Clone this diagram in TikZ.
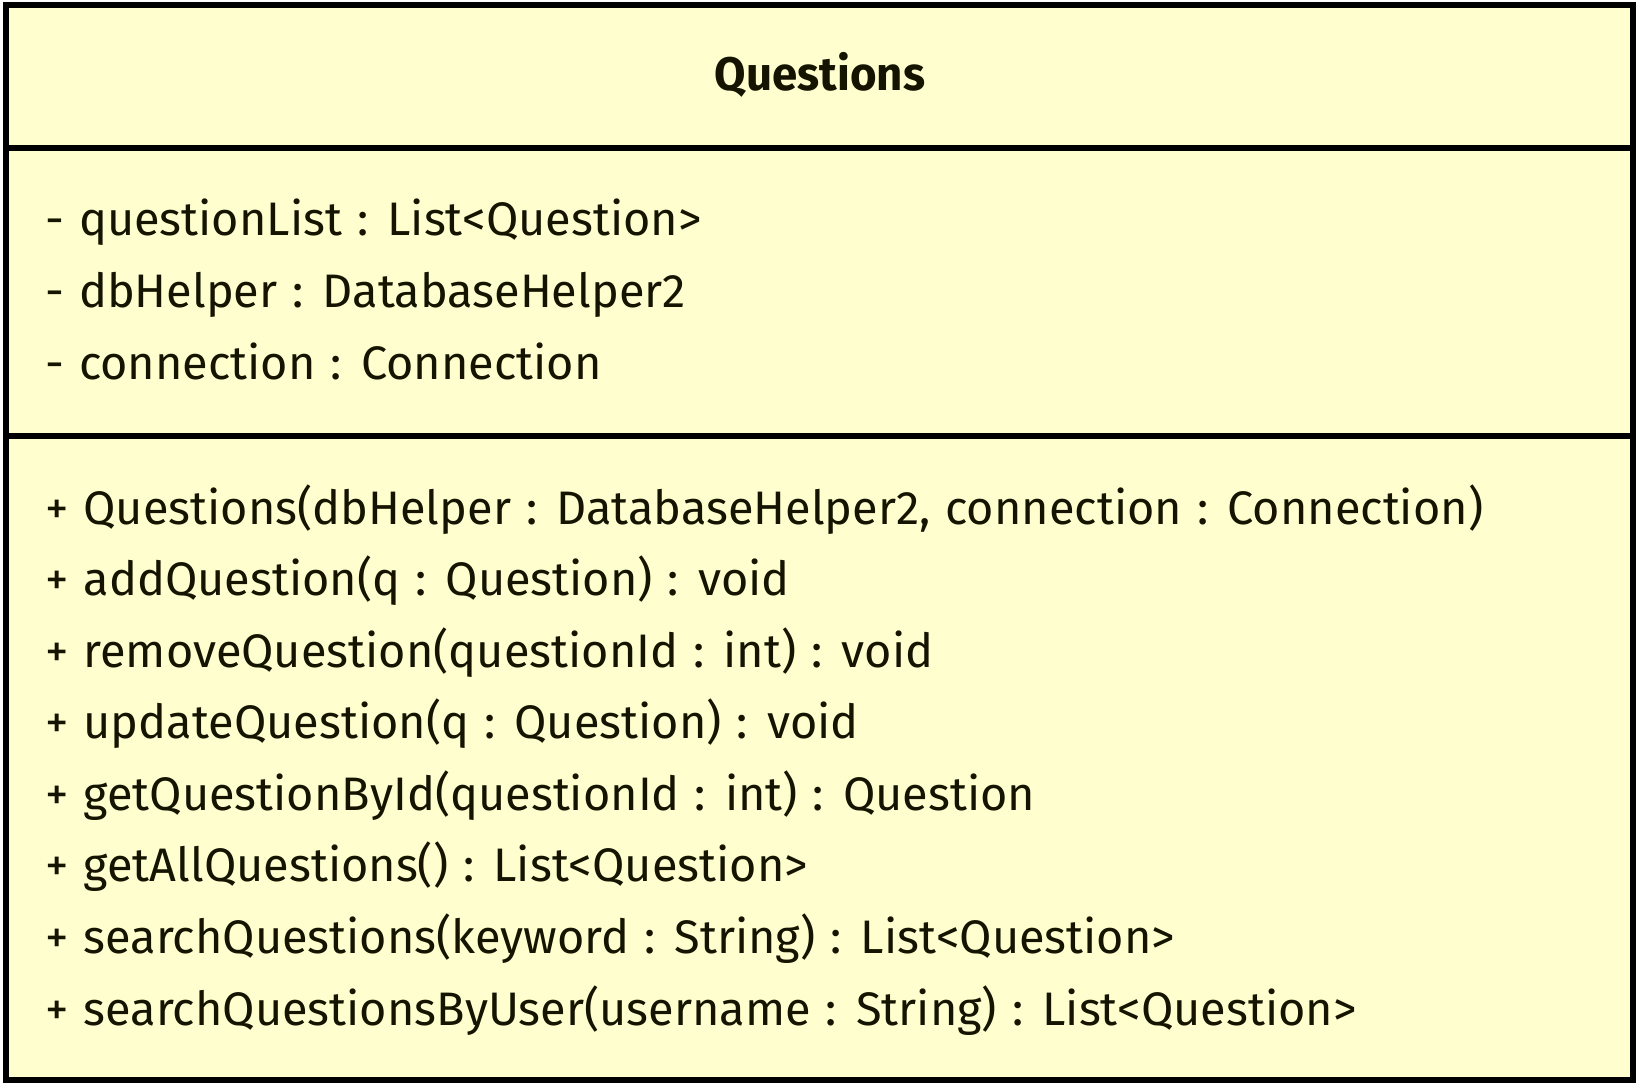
\documentclass[tikz,border=0pt]{standalone}
\usepackage{fontspec}
\setmainfont{Fira Sans}
\usepackage{graphicx}
\definecolor{umlfill}{HTML}{FEFECE}
\definecolor{umltext}{HTML}{141400}
\newlength\reflen
\newcommand{\memfont}{\fontsize{47}{56}\selectfont\spaceskip=0.32em\relax}
\tikzset{
  member/.style={anchor=base west, inner sep=0pt, text=umltext, font=\memfont},
  ctitle/.style={anchor=base, inner sep=0pt, text=umltext, font=\fontsize{47}{56}\selectfont\bfseries},
  umlbox/.style={draw=black, line width=6pt, fill=umlfill},
  sep/.style={draw=black, line width=6pt}
}
\newcommand{\sx}[1]{\scalebox{\fx}[1]{#1}}
\begin{document}
\settowidth\reflen{\memfont + Questions(dbHelper : DatabaseHelper2, connection : Connection)}%
\pgfmathsetmacro\fx{1438pt/\reflen}%
\begin{tikzpicture}[x=1pt,y=1pt]
\useasboundingbox (0,0) rectangle (1644,-1090);
\path[umlbox] (6,-5) rectangle (1633,-1080);
\coordinate (s1l) at (6,-148);
\coordinate (s1r) at (1633,-148);
\coordinate (s2l) at (6,-436);
\coordinate (s2r) at (1633,-436);
\draw[sep] (s1l) -- (s1r);
\draw[sep] (s2l) -- (s2r);
\node[ctitle] (title) at (820,-90) {\scalebox{0.97}[1]{Questions}};
\node[member] (a1) at (45,-235) {\sx{- questionList : List<Question>}};
\node[member] (a2) at (45,-307) {\sx{- dbHelper : DatabaseHelper2}};
\node[member] (a3) at (45,-379) {\sx{- connection : Connection}};
\node[member] (m1) at (45,-524) {\sx{+ Questions(dbHelper : DatabaseHelper2, connection : Connection)}};
\node[member] (m2) at (45,-595.5) {\sx{+ addQuestion(q : Question) : void}};
\node[member] (m3) at (45,-667) {\sx{+ removeQuestion(questionId : int) : void}};
\node[member] (m4) at (45,-738.6) {\sx{+ updateQuestion(q : Question) : void}};
\node[member] (m5) at (45,-810.2) {\sx{+ getQuestionById(questionId : int) : Question}};
\node[member] (m6) at (45,-881.8) {\sx{+ getAllQuestions() : List<Question>}};
\node[member] (m7) at (45,-953.4) {\sx{+ searchQuestions(keyword : String) : List<Question>}};
\node[member] (m8) at (45,-1025) {\sx{+ searchQuestionsByUser(username : String) : List<Question>}};
\end{tikzpicture}
\end{document}
